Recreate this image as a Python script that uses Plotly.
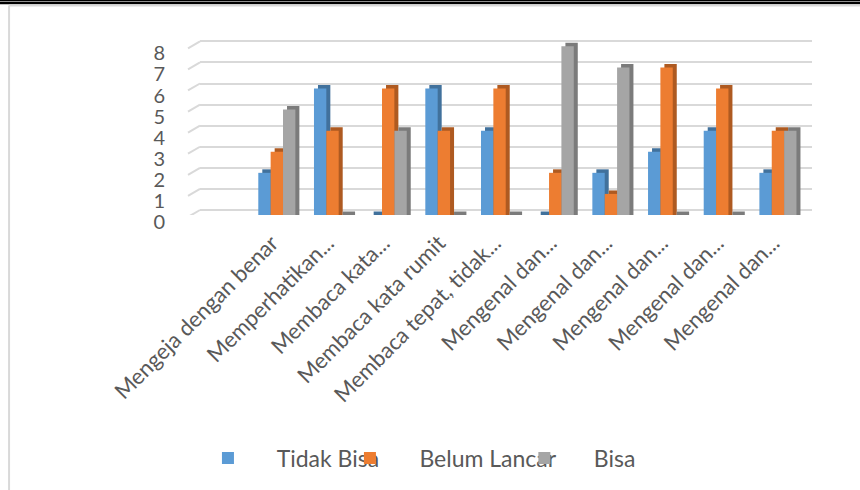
import plotly.graph_objects as go

categories = [
    "Mengeja dengan benar",
    "Memperhatikan...",
    "Membaca kata...",
    "Membaca kata rumit",
    "Membaca tepat, tidak...",
    "Mengenal dan...",
    "Mengenal dan...",
    "Mengenal dan...",
    "Mengenal dan...",
    "Mengenal dan...",
]
tidak_bisa = [2, 6, 0, 6, 4, 0, 2, 3, 4, 2]
belum_lancar = [3, 4, 6, 4, 6, 2, 1, 7, 6, 4]
bisa = [5, 0, 4, 0, 0, 8, 7, 0, 0, 4]
series_names = ["Tidak Bisa", "Belum Lancar", "Bisa"]
y_ticks = [0, 1, 2, 3, 4, 5, 6, 7, 8]

FONT = "Lato"
TXT = "#595959"
front_colors = ["#5B9BD5", "#ED7D31", "#A5A5A5"]
side_colors = ["#41719C", "#AE5A21", "#7B7B7B"]
offsets = [-0.335, -0.113, 0.109]
BW = 0.222
DX = 0.072      # 3D depth (x, category units)
DY = 0.166      # 3D depth (y, value units)

xs = list(range(len(categories)))
series = [tidak_bisa, belum_lancar, bisa]

fig = go.Figure()
# side / top faces (drawn behind)
for vals, c, off in zip(series, side_colors, offsets):
    fig.add_trace(go.Bar(x=xs, y=[v + DY for v in vals], width=BW, offset=off + DX,
                         marker=dict(color=c, line=dict(width=0)), showlegend=False,
                         hoverinfo="skip"))
# front faces
legends = ["legend", "legend2", "legend3"]
for vals, c, off, name, lg in zip(series, front_colors, offsets, series_names, legends):
    fig.add_trace(go.Bar(x=xs, y=vals, width=BW, offset=off, name="\u00a0" * 5 + name,
                         marker=dict(color=c, line=dict(width=0)), legend=lg))
# empty trace for gridline axis
fig.add_trace(go.Scatter(x=[None], y=[None], yaxis="y2", showlegend=False, hoverinfo="skip"))

shapes = []
# slanted back-wall grid stubs
for v in y_ticks:
    shapes.append(dict(type="line", xref="paper", yref="y2", x0=-0.0196, y0=v - 0.33,
                       x1=0, y1=v, line=dict(color="#D9D9D9", width=2)))
# page frame lines
shapes += [
    dict(type="line", xref="paper", yref="paper", x0=-0.33, x1=1.08, y0=1.2257, y1=1.2257,
         line=dict(color="black", width=1.5)),
    dict(type="line", xref="paper", yref="paper", x0=-0.33, x1=1.08, y0=1.2114, y1=1.2114,
         line=dict(color="black", width=2.5)),
    dict(type="line", xref="paper", yref="paper", x0=-0.312, x1=1.08, y0=1.197, y1=1.197,
         line=dict(color="#D9D9D9", width=2)),
    dict(type="line", xref="paper", yref="paper", x0=-0.312, x1=-0.312, y0=1.197, y1=-1.6,
         line=dict(color="#D9D9D9", width=2)),
]

leg_common = dict(orientation="h", yanchor="middle", y=-1.389, xanchor="left",
                  font=dict(family=FONT, size=23, color=TXT), bgcolor="rgba(0,0,0,0)",
                  borderwidth=0)

fig.update_layout(
    width=860, height=490,
    margin=dict(l=200, r=48, t=40, b=275, autoexpand=False),
    paper_bgcolor="white", plot_bgcolor="white",
    barmode="overlay",
    font=dict(family=FONT, color=TXT),
    xaxis=dict(range=[-1.382, 9.61], tickvals=xs, ticktext=categories, tickangle=-45,
               showgrid=False, zeroline=False, showline=False, ticks="", automargin=False,
               tickfont=dict(family=FONT, size=22, color=TXT), ticklabelstandoff=10,
               ticklabelshift=-5),
    yaxis=dict(range=[0, 8.3], showgrid=False, zeroline=False, showticklabels=False,
               showline=False, ticks="", automargin=False),
    yaxis2=dict(range=[-0.237, 8.063], overlaying="y", side="left", anchor="x",
                tickvals=y_ticks, showgrid=True, gridcolor="#D9D9D9", gridwidth=2,
                zeroline=False, showline=False, ticks="", ticklabelshift=12, automargin=False,
                ticklabelstandoff=34, tickfont=dict(family=FONT, size=20, color=TXT)),
    legend=dict(x=0.013, **leg_common),
    legend2=dict(x=0.245, **leg_common),
    legend3=dict(x=0.530, **leg_common),
    shapes=shapes,
    showlegend=True,
)

fig.write_html("out.html", config={"displayModeBar": False},
               post_script="document.body.style.margin='0';")
